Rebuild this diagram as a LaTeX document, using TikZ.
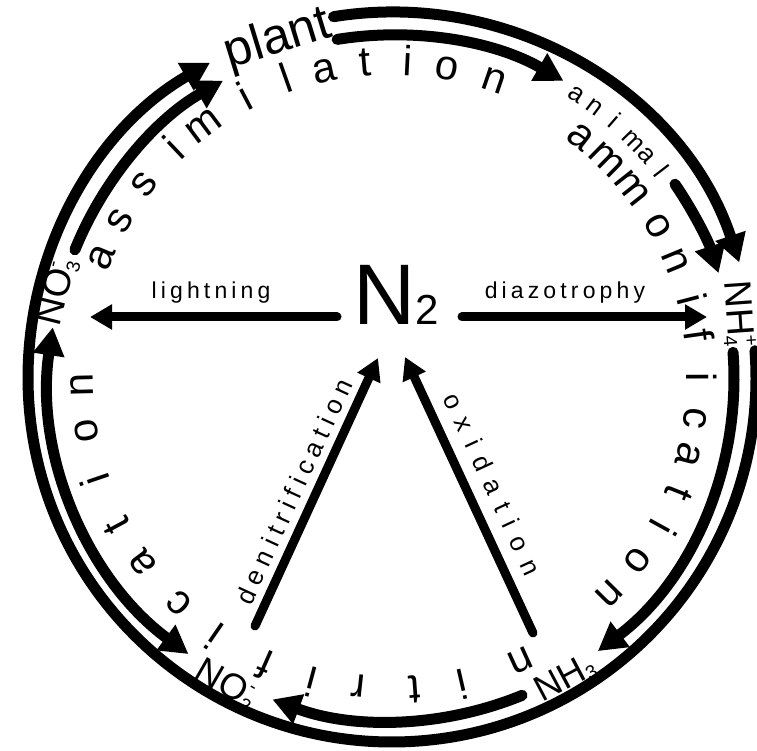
\documentclass[tikz,border=0pt]{standalone}
\usepackage{fontspec}
\setmainfont{Liberation Sans}
\newfontfamily\spacedfont[LetterSpace=18]{Liberation Sans}
\newfontfamily\widefont[LetterSpace=25]{Liberation Sans}
\newfontfamily\widerfont[LetterSpace=45]{Liberation Sans}
\usetikzlibrary{arrows.meta}
\newcommand\subfont{\fontsize{19}{19}\selectfont}
\newcommand\anifontsel{\fontsize{26}{26}\selectfont}
\begin{document}
\begin{tikzpicture}[x=1pt,y=1pt,
  ring/.style={line width=11pt, line cap=round},
  ringarrow/.style={ring, -{Triangle[length=28pt,width=30pt]}},
  ringboth/.style={ring, {Triangle[length=28pt,width=30pt]}-{Triangle[length=28pt,width=30pt]}},
  straight/.style={line width=9pt, line cap=round, -{Triangle[length=22pt,width=24pt]}},
  lbl/.style={font=\spacedfont\fontsize{23}{23}\selectfont, inner sep=0pt},
  slbl/.style={font=\widefont\fontsize{26}{26}\selectfont, inner sep=0pt},
  circ/.style={font=\fontsize{42}{42}\selectfont, inner sep=0pt, anchor=base},
  anistyle/.style={font=\anifontsel, inner sep=0pt, anchor=base},
  ion/.style={font=\fontsize{38}{38}\selectfont, inner sep=0pt},
]
\useasboundingbox (0,0) rectangle (757,751);
\fill[white] (0,0) rectangle (757,751);

% rings
\begin{scope}[shift={(392,373)}]
\draw[ringarrow] (99.2:366) arc[start angle=99.2, end angle=18.4, radius=366];
\draw[ringarrow] (4.3:364) arc[start angle=4.3, end angle=-240, radius=364];
\draw[ringarrow] (158:342) arc[start angle=158, end angle=119.6, radius=342];
\draw[ringarrow] (99.2:343) arc[start angle=99.2, end angle=60, radius=343];
\draw[ringarrow] (34.4:343) arc[start angle=34.4, end angle=17.8, radius=343];
\draw[ringarrow] (4.3:342) arc[start angle=4.3, end angle=-53, radius=342];
\draw[ringarrow] (-67.7:343) arc[start angle=-67.7, end angle=-110.4, radius=343];
\draw[ringboth] (171.5:343) arc[start angle=171.5, end angle=233.6, radius=343];

% circular texts
\foreach \c/\a [count=\i] in {a/157.5,s/150,s/142,i/133.5,m/126.7,i/117.6,l/109.5,a/102.5,t/94.9,i/87.1,o/80,n/71.1}
  \node[circ, rotate=\a-90] (asm\i) at (\a:303) {\c};
\foreach \c/\a [count=\i] in {a/52,m/45.4,m/38.3,o/29.7,n/22.4,i/14.7,f/8,i/0.2,c/-7.5,a/-14.5,t/-21.8,i/-28.9,o/-36.7,n/-44.7}
  \node[circ, rotate=\a-90] (amm\i) at (\a:295) {\c};
\foreach \c/\a [count=\i] in {n/-65.6,i/-77,t/-85.8,r/-96.2,i/-105,f/-113.9,i/-124.6,c/-133.3,a/-143.4,t/-151.7,i/-161.1,o/-170.2,n/-178.7}
  \node[circ, rotate=\a-90] (nit\i) at (\a:299) {\c};
\foreach \c/\a [count=\i] in {a/57,n/53.1,i/49.1,m/44.5,a/41.2,l/37.5}
  \node[anistyle, rotate=\a-90] (ani\i) at (\a:331) {\c};
\end{scope}

% labels
\node[font=\fontsize{50}{50}\selectfont, inner sep=0pt, rotate=17] (plant) at (278,711) {plant};
\node[font=\fontsize{86}{86}\selectfont, inner sep=0pt, anchor=base] (n2) at (396,426) {N{\fontsize{42}{42}\selectfont 2}};
\node[ion, rotate=76] (no3) at (57,457) {NO\rlap{\raisebox{-5pt}{\subfont 3}}\raisebox{16pt}{\subfont -}};
\node[ion, rotate=-86] (nh4) at (738,437) {NH\rlap{\raisebox{-5pt}{\subfont 4}}\raisebox{16pt}{\subfont +}};
\node[ion, font=\fontsize{36}{36}\selectfont, rotate=-30] (no2) at (224,67) {NO\rlap{\raisebox{-5pt}{\subfont 2}}\raisebox{16pt}{\subfont -}};
\node[ion, font=\fontsize{36}{36}\selectfont, rotate=28] (nh3) at (565,73) {NH{\raisebox{-3pt}{\subfont 3}}};

% straight arrows
\coordinate (ltS) at (337,434); \coordinate (ltE) at (90,434);
\coordinate (dzS) at (462,434); \coordinate (dzE) at (707,434);
\coordinate (dnS) at (255,125); \coordinate (dnE) at (378,393);
\coordinate (oxS) at (533,118); \coordinate (oxE) at (405,394);
\draw[straight] (ltS) -- node[lbl, pos=0.51, above=9pt] (ltl) {lightning} (ltE);
\draw[straight] (dzS) -- node[lbl, pos=0.42, above=9pt] (dzl) {diazotrophy} (dzE);
\draw[straight] (dnS) -- node[slbl, pos=0.47, sloped, above=7pt] (dnl) {denitrification} (dnE);
\draw[straight] (oxS) -- node[slbl, font=\widerfont\fontsize{26}{26}\selectfont, pos=0.5, sloped, above=12pt] (oxl) {oxidation} (oxE);
\end{tikzpicture}
\end{document}
